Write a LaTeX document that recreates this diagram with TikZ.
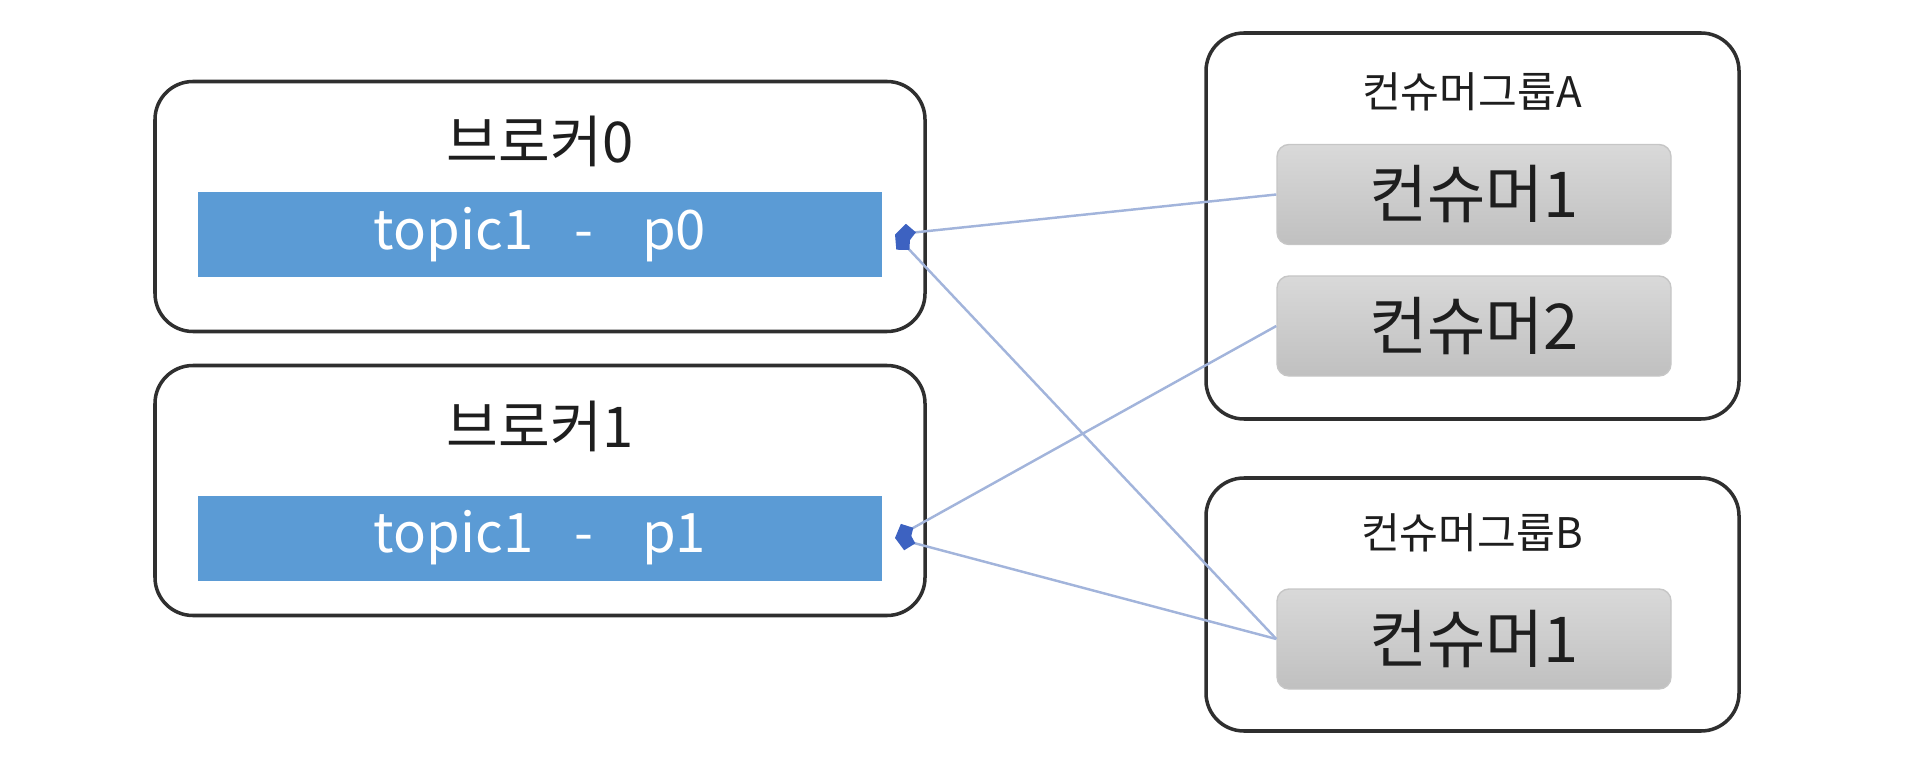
\documentclass[tikz,border=0pt]{standalone}
\usepackage{fontspec}
\setmainfont{Noto Sans CJK KR}
\usetikzlibrary{arrows.meta,positioning}
\definecolor{kfink}{HTML}{1E1E1E}
\definecolor{kfframe}{HTML}{2F2F2F}
\definecolor{kfbar}{HTML}{5B9BD5}
\definecolor{kfline}{HTML}{A2B4DB}
\definecolor{kftip}{HTML}{3D62C1}
\definecolor{kfgreytop}{HTML}{D9D9D9}
\definecolor{kfgreybot}{HTML}{C0C0C0}
\tikzset{
  broker/.style={rectangle,rounded corners=3.8mm,draw=kfframe,line width=1pt,minimum width=7.7cm,minimum height=2.5cm},
  group/.style={rectangle,rounded corners=3.8mm,draw=kfframe,line width=1pt,minimum width=5.33cm},
  partbar/.style={rectangle,fill=kfbar,minimum width=6.84cm,minimum height=.85cm,outer xsep=.13cm,text=white,font=\fontsize{15.5pt}{19pt}\selectfont},
  consumer/.style={rectangle,rounded corners=1.2mm,draw=kfgreybot!90,line width=.4pt,top color=kfgreytop,bottom color=kfgreybot,minimum width=3.94cm,minimum height=1cm,text=kfink,font=\fontsize{18pt}{21pt}\selectfont},
  brokerlabel/.style={text=kfink,font=\fontsize{16pt}{19pt}\selectfont},
  grouplabel/.style={text=kfink,font=\fontsize{12pt}{14pt}\selectfont},
  fetch/.style={-{Kite[length=2.1mm,width=1.9mm,inset=.9mm,color=kftip]},draw=kfline,line width=.7pt},
}
\begin{document}
\begin{tikzpicture}
  \useasboundingbox (0,0) rectangle (19.2,7.79);
  % brokers
  \node[broker] (b0) at (5.40,5.725) {};
  \node[broker] (b1) at (5.40,2.885) {};
  \node[brokerlabel] (b0lab) at (5.40,6.38) {브로커0};
  \node[brokerlabel] (b1lab) at (5.40,3.53) {브로커1};
  \node[partbar] (p0) at (5.40,5.445) {topic1\hspace{.75em}-\hspace{.9em}p0};
  \node[partbar] (p1) at (5.40,2.41) {topic1\hspace{.75em}-\hspace{.9em}p1};
  % consumer groups
  \node[group,minimum height=3.86cm] (ga) at (14.725,5.53) {};
  \node[group,minimum height=2.53cm] (gb) at (14.725,1.745) {};
  \node[grouplabel] (galab) at (14.72,6.87) {컨슈머그룹A};
  \node[grouplabel] (gblab) at (14.72,2.46) {컨슈머그룹B};
  \node[consumer] (ca1) at (14.74,5.845) {컨슈머1};
  \node[consumer] (ca2) at (14.74,4.53) {컨슈머2};
  \node[consumer] (cb1) at (14.74,1.40) {컨슈머1};
  % fetches
  \draw[fetch] (ca1.west) -- (p0.east);
  \draw[fetch] (ca2.west) -- (p1.east);
  \draw[fetch] (cb1.west) -- (p0.east);
  \draw[fetch] (cb1.west) -- (p1.east);
\end{tikzpicture}
\end{document}
